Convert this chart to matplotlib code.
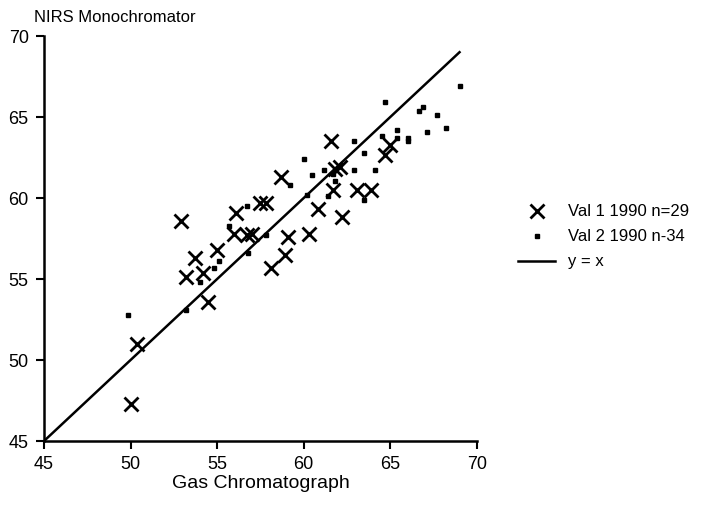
import matplotlib
matplotlib.use('Agg')
import matplotlib.pyplot as plt

plt.rcParams['font.family'] = ['Liberation Sans', 'DejaVu Sans']

# Val 1 1990 (crosses)
val1_gc = [50.0, 50.4, 52.9, 53.2, 53.7, 54.2, 54.5, 55.0, 56.1, 56.0,
           56.7, 57.0, 57.5, 57.8, 58.1, 58.9, 58.7, 59.1, 60.3, 60.8,
           61.6, 61.7, 61.8, 62.1, 62.2, 63.1, 63.9, 64.7, 65.0]
val1_nirs = [47.3, 51.0, 58.6, 55.1, 56.3, 55.4, 53.6, 56.8, 59.1, 57.8,
             57.7, 57.8, 59.7, 59.7, 55.7, 56.5, 61.3, 57.6, 57.8, 59.3,
             63.5, 60.5, 61.8, 61.9, 58.8, 60.5, 60.5, 62.65, 63.3]

# Val 2 1990 (squares)
val2_gc = [49.85, 53.2, 54.0, 54.8, 55.1, 55.7, 56.7, 56.8, 57.8, 59.2,
           60.0, 60.2, 60.5, 61.2, 61.4, 61.8, 61.7, 62.9, 62.9, 63.5,
           63.5, 64.1, 64.5, 64.7, 65.4, 65.4, 66.0, 66.0, 66.65, 66.9,
           67.1, 67.7, 68.2, 69.0]
val2_nirs = [52.8, 53.1, 54.8, 55.7, 56.1, 58.3, 59.5, 56.6, 57.7, 60.8,
             62.4, 60.2, 61.4, 61.7, 60.1, 61.05, 61.5, 63.5, 61.7, 62.8,
             59.9, 61.7, 63.8, 65.9, 64.2, 63.7, 63.7, 63.5, 65.4, 65.6,
             64.1, 65.1, 64.3, 66.9]

line_x = [45, 69]
ticks = [45, 50, 55, 60, 65, 70]

fig = plt.figure(figsize=(7.19, 5.05), dpi=100)
ax = fig.add_axes([0.0612, 0.1267, 0.6020, 0.8020])

l1, = ax.plot(val1_gc, val1_nirs, 'x', color='black', markersize=10,
              markeredgewidth=2, label='Val 1 1990 n=29')
l2, = ax.plot(val2_gc, val2_nirs, 's', color='black', markersize=3.5,
              label='Val 2 1990 n-34')
l3, = ax.plot(line_x, line_x, '-', color='black', linewidth=1.8,
              label='y = x')

ax.set_xlim(45, 70)
ax.set_ylim(45, 70)
ax.set_xticks(ticks)
ax.set_yticks(ticks)
ax.tick_params(direction='out', length=6, width=1.5, labelsize=13, pad=5)
for side in ['top', 'right']:
    ax.spines[side].set_visible(False)
for side in ['left', 'bottom']:
    ax.spines[side].set_linewidth(1.8)

ax.set_xlabel('Gas Chromatograph', fontsize=14, labelpad=1)
fig.text(0.047, 0.966, 'NIRS Monochromator', fontsize=12, va='center')

fig.legend(handles=[l1, l2, l3], loc='center left',
           bbox_to_anchor=(0.70, 0.531), frameon=False, fontsize=12,
           handlelength=2.2, labelspacing=0.6)

plt.savefig('out.png', dpi=100)
plt.close(fig)
